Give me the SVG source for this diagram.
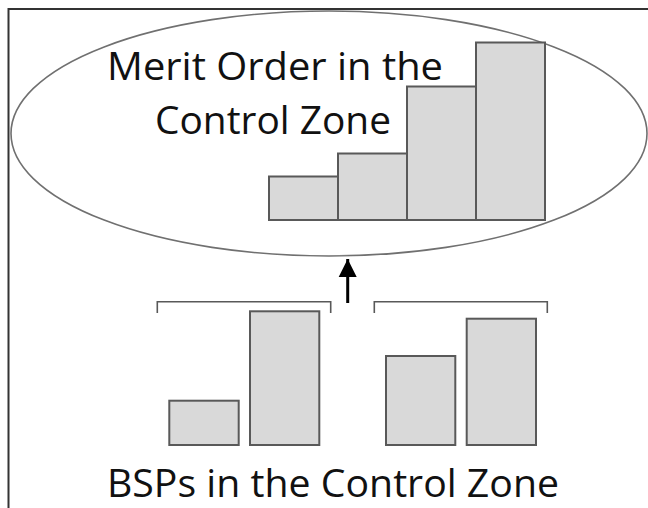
<svg xmlns="http://www.w3.org/2000/svg" width="648" height="508" viewBox="0 0 648 508">
  <style>
    .bar { fill: #d9d9d9; stroke: #595959; stroke-width: 2; }
    .label { font-family: "Open Sans", "Noto Sans", "Liberation Sans", sans-serif; fill: #111111; }
    .bracket { fill: none; stroke: #595959; stroke-width: 1.6; }
  </style>
  <defs>
    <marker id="arrowhead" viewBox="0 0 10 10" refX="10" refY="5" markerWidth="6" markerHeight="6.4" markerUnits="strokeWidth" orient="auto">
      <path d="M0,0 L10,5 L0,10 Z" fill="#000000"/>
    </marker>
  </defs>

  <rect x="0" y="0" width="648" height="508" fill="#ffffff"/>
  <!-- frame -->
  <rect x="8.5" y="9" width="700" height="600" fill="none" stroke="#333333" stroke-width="2"/>

  <!-- merit order node -->
  <g id="merit-order">
    <ellipse cx="329" cy="133.5" rx="318" ry="122.5" fill="none" stroke="#707070" stroke-width="1.6"/>
    <rect class="bar" x="269" y="176.5" width="69" height="43.5"/>
    <rect class="bar" x="338" y="153.5" width="69" height="66.5"/>
    <rect class="bar" x="407" y="86.5" width="69" height="133.5"/>
    <rect class="bar" x="476" y="42.5" width="69" height="177.5"/>
    <text class="label" x="107" y="80" font-size="39" textLength="336" lengthAdjust="spacingAndGlyphs">Merit Order in the</text>
    <text class="label" x="155" y="133.5" font-size="39" textLength="236" lengthAdjust="spacingAndGlyphs">Control Zone</text>
  </g>

  <!-- balancing service providers -->
  <g id="bsp-group-1">
    <path class="bracket" d="M157.3,313 V301.7 H330.7 V313"/>
    <rect class="bar" x="169.3" y="400.7" width="69.4" height="44.3"/>
    <rect class="bar" x="250" y="311.3" width="69.3" height="133.7"/>
  </g>
  <g id="bsp-group-2">
    <path class="bracket" d="M374.3,313 V301.7 H547.3 V313"/>
    <rect class="bar" x="386" y="356" width="69.3" height="89"/>
    <rect class="bar" x="466.7" y="318.7" width="69.3" height="126.3"/>
  </g>
  <g id="bsp-label">
    <text class="label" x="107" y="496.7" font-size="39" textLength="452" lengthAdjust="spacingAndGlyphs">BSPs in the Control Zone</text>
  </g>

  <!-- connectors -->
  <g id="connectors">
    <line x1="347.7" y1="303" x2="347.7" y2="259" stroke="#000000" stroke-width="3" marker-end="url(#arrowhead)"/>
  </g>
</svg>
